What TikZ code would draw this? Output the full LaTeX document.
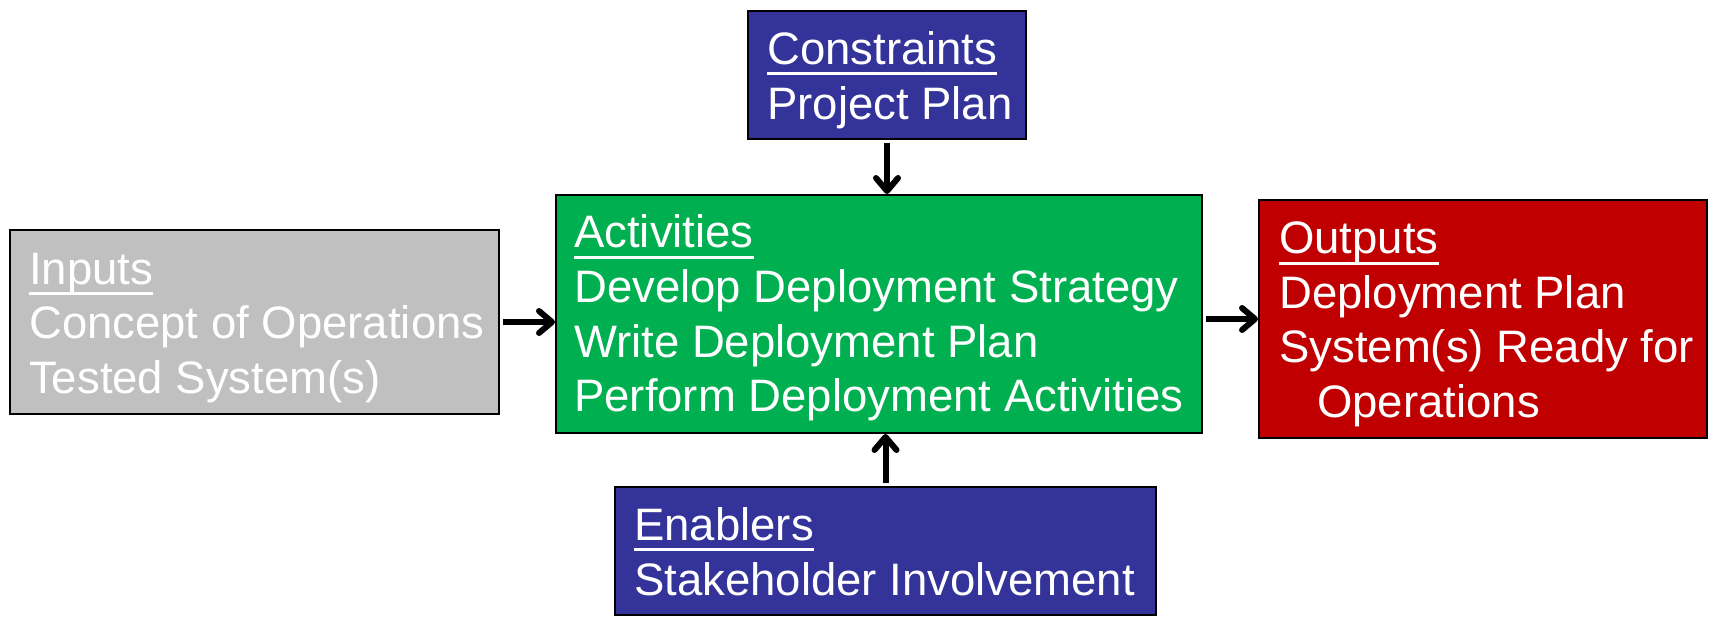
\documentclass[tikz,border=0pt]{standalone}
\usepackage{fontspec}
\setmainfont{Liberation Sans}
\usetikzlibrary{arrows.meta}
\definecolor{boxblue}{RGB}{51,51,153}
\definecolor{boxgreen}{RGB}{0,176,80}
\definecolor{boxred}{RGB}{192,0,0}
\definecolor{boxgray}{RGB}{192,192,192}
\newcommand{\hdul}[1]{\setbox0\hbox{#1}\rlap{\rule[-11pt]{\wd0}{3pt}}\box0}
\begin{document}
\begin{tikzpicture}[x=1pt,y=-1pt,
  box/.style={draw=black, line width=2pt, inner sep=0pt},
  txt/.style={text=white, align=left, inner sep=0pt, font=\fontsize{45.5}{54.6}\selectfont, anchor=west},
  arr/.style={line width=6pt, shorten <=3pt, -{Straight Barb[length=13pt,width=22pt,round]}}]
\useasboundingbox (0,0) rectangle (1712,616);
% boxes
\node[box, fill=boxgray, minimum width=489pt, minimum height=184pt] (inp) at (254.5,322) {};
\node[box, fill=boxgreen, minimum width=646pt, minimum height=238pt] (act) at (879,314) {};
\node[box, fill=boxred, minimum width=448pt, minimum height=238pt] (out) at (1483,319) {};
\node[box, fill=boxblue, minimum width=278pt, minimum height=128pt] (cons) at (887,75) {};
\node[box, fill=boxblue, minimum width=541pt, minimum height=128pt] (ena) at (885.5,551) {};
% texts
\node[txt] (inpT) at ([xshift=20pt,yshift=-6pt]inp.west) {\hdul{Inputs}\\Concept of Operations\\Tested System(s)};
\node[txt] (actT) at ([xshift=19pt,yshift=-4pt]act.west) {\hdul{Activities}\\Develop Deployment Strategy\\Write Deployment Plan\\Perform Deployment Activities};
\node[txt] (outT) at ([xshift=21pt,yshift=-5.5pt]out.west) {\hdul{Outputs}\\Deployment Plan\\System(s) Ready for\\\hspace*{38pt}Operations};
\node[txt] (consT) at ([xshift=20pt,yshift=-5pt]cons.west) {\hdul{Constraints}\\Project Plan};
\node[txt] (enaT) at ([xshift=20pt,yshift=-0.5pt]ena.west) {\hdul{Enablers}\\Stakeholder Involvement};
% connectors
\draw[arr] (inp.east) -- (act.west |- inp.east);
\draw[arr] (act.east |- out.west) -- (out.west);
\draw[arr] (cons.south) -- (cons.south |- act.north);
\draw[arr] (ena.north) -- (ena.north |- act.south);
\end{tikzpicture}
\end{document}
